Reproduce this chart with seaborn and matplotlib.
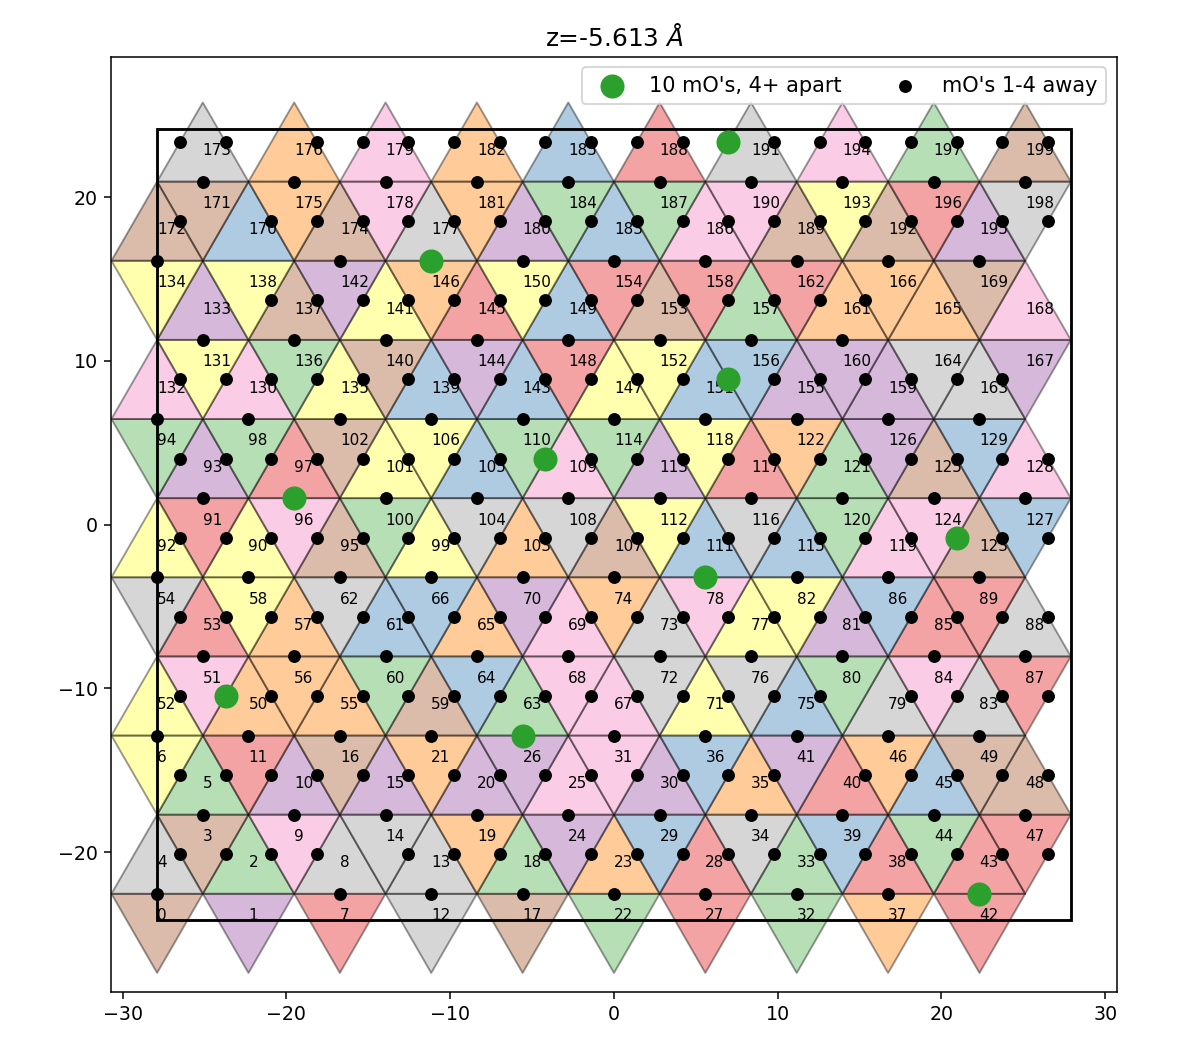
import numpy as np
import pandas as pd
import matplotlib.pyplot as plt
import seaborn as sns
from matplotlib.collections import PolyCollection
from matplotlib.patches import Rectangle

# lattice (Angstrom)
a = 5.58                      # triangle side
h = a * np.sqrt(3) / 2        # row height
x0 = -5 * a
y0 = -5 * h + h / 3

# colour code of every triangle, in label order
# R red, B blue, G green, P purple, O orange, Y yellow, N brown, K pink, A grey (Set1)
colors_0_49 = ("N P G N A G Y R A K  P R A A A P N N G O  P O G O P K P R R B  "
               "P K G G A O B O R B  R P R R G B O R N N").split()
colors_50_89 = ("O K Y R A O O O Y N  G B A G B O B K K K  "
                "P Y A A O B A Y K A  G P Y A K R B R A R").split()
colors_90_129 = ("Y R Y P G N K R G Y  G Y N O A B Y N A K  "
                 "G B Y P G B A R Y K  G G O N K N P B K B").split()
colors_130_169 = ("K Y K P Y Y G N Y B  N Y P B P R O Y R B  "
                  "Y B Y N R P B G R P  P O R A A O O P K N").split()
colors_170_199 = ("B N N A N O O A K K  P O O B G B K G R N  "
                  "K A N Y K P R G A N").split()
tri_codes = colors_0_49 + colors_50_89 + colors_90_129 + colors_130_169 + colors_170_199

# mO sites: "line" = on horizontal edges (line k, slot i), "mid" = slanted edges (row k, slot j)
green_line = [(8, 3), (5, 1), (4, 6), (2, 4), (0, 9)]
green_mid = [(9, 12), (6, 12), (5, 8), (4, 17), (2, 1)]
# sites without a black dot
empty_line = {0: [1], 7: [8, 9], 8: [1]}
empty_mid = {0: [4], 1: [14], 2: [15], 6: [19], 7: [0, 1, 16, 17, 18, 19], 8: [1], 9: [2]}

title = r"z=-5.613 $\AA$"


def triangle_order():
    out = []
    for g in range(5):
        r0, r1 = 2 * g, 2 * g + 1
        for j in range(1, 10):
            if g == 0:
                if j == 1:
                    out.append((-1, 'down', 0))
                out.append((-1, 'down', j))
            out.append((r0, 'up', j))
            out.append((r0, 'down', j - 1))
            if j == 1:
                out.append((r0, 'up', 0))
            out.append((r1, 'up', j - 1))
            if r1 != 9:
                out.append((r1, 'down', j - 1))
        out.append((r0, 'down', 9))
        out.append((r1, 'up', 9))
        if r1 != 9:
            out.append((r1, 'down', 9))
    return out


pal = dict(zip("RBGPOYNKA", sns.color_palette("Set1", 9)))

verts, faces, centers = [], [], []
for (row, kind, i), code in zip(triangle_order(), tri_codes):
    yb = y0 + row * h
    yt = yb + h
    shift = a / 2 if ((row % 2 == 0) == (kind == 'down')) else 0.0
    c = x0 + shift + i * a
    if kind == 'up':
        verts.append([(c - a / 2, yb), (c + a / 2, yb), (c, yt)])
        centers.append((c, yb + h / 3))
    else:
        verts.append([(c - a / 2, yt), (c + a / 2, yt), (c, yb)])
        centers.append((c, yt - h / 3))
    faces.append(pal[code])


def line_xy(k, i):
    return x0 + (k % 2) * a / 2 + i * a, y0 + k * h


def mid_xy(k, j):
    return x0 + a / 4 + j * a / 2, y0 + (k + 0.5) * h


green = [line_xy(k, i) for k, i in green_line] + [mid_xy(k, j) for k, j in green_mid]
black = []
for k in range(10):
    for i in range(10):
        if i not in empty_line.get(k, []) and (k, i) not in green_line:
            black.append(line_xy(k, i))
    for j in range(20):
        if j not in empty_mid.get(k, []) and (k, j) not in green_mid:
            black.append(mid_xy(k, j))
green_df = pd.DataFrame(green, columns=['x', 'y'])
black_df = pd.DataFrame(black, columns=['x', 'y'])

dpi = 137
fig = plt.figure(figsize=(1200 / dpi, 1050 / dpi), dpi=dpi)
ax = fig.add_axes([0.0925, 0.0552, 0.8383, 0.8905])

ax.add_collection(PolyCollection(verts, facecolors=faces, edgecolors='k',
                                 linewidths=1.0, alpha=0.4, zorder=1))
for n, (cx, cy) in enumerate(centers):
    ax.text(cx, cy, str(n), fontsize=8, zorder=3)

ax.add_patch(Rectangle((-5 * a, -5 * h), 10 * a, 10 * h, fill=False,
                       ec='k', lw=1.5, zorder=2))

sns.scatterplot(data=green_df, x='x', y='y', ax=ax, color='#2ca02c', s=160,
                linewidth=0, label="10 mO's, 4+ apart", zorder=5)
sns.scatterplot(data=black_df, x='x', y='y', ax=ax, color='k', s=46,
                linewidth=0, label="mO's 1-4 away", zorder=4)

ax.set_xlim(-30.7, 30.7)
ax.set_ylim(-28.55, 28.55)
ax.set_aspect('equal')
ax.set_xlabel('')
ax.set_ylabel('')
ax.set_title(title, fontsize=13)
ax.legend(loc='upper right', ncol=2, fontsize=11)

fig.savefig('out.png', dpi=dpi)
